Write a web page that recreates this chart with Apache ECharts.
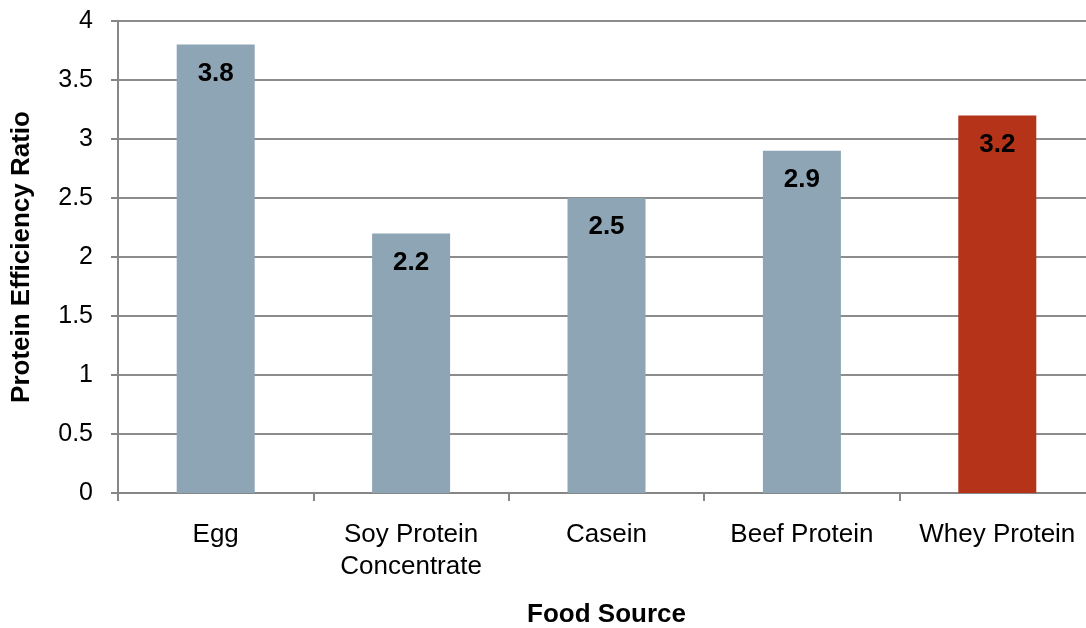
<!DOCTYPE html>
<html>
<head>
<meta charset="utf-8">
<script src="https://cdn.jsdelivr.net/npm/echarts@6/dist/echarts.min.js"></script>
<style>
html, body { margin: 0; padding: 0; background: #fff; }
#chart { width: 1086px; height: 628px; }
</style>
</head>
<body>
<div id="chart"></div>
<script>
var categories = ['Egg', 'Soy Protein\nConcentrate', 'Casein', 'Beef Protein', 'Whey Protein'];
var perValues = [3.8, 2.2, 2.5, 2.9, 3.2];
var barColors = ['#8ea5b6', '#8ea5b6', '#8ea5b6', '#8ea5b6', '#b53319'];

var chart = echarts.init(document.getElementById('chart'));
var font = 'Liberation Sans, Arial, sans-serif';

chart.setOption({
	animation: false,
	grid: {
		left: 118,
		top: 21,
		width: 977,
		height: 472,
		outerBoundsMode: 'none',
		containLabel: false
	},
	xAxis: {
		type: 'category',
		data: categories,
		name: 'Food Source',
		nameLocation: 'middle',
		nameGap: 109,
		nameTextStyle: { fontFamily: font, fontSize: 26, fontWeight: 'bold', color: '#000' },
		axisLine: { lineStyle: { color: '#868686', width: 2 } },
		axisTick: { show: true, length: 8, lineStyle: { color: '#868686', width: 2 } },
		axisLabel: { fontFamily: font, fontSize: 26, color: '#000', margin: 26, lineHeight: 32, interval: 0 }
	},
	yAxis: {
		type: 'value',
		min: 0,
		max: 4,
		interval: 0.5,
		name: 'Protein Efficiency Ratio',
		nameLocation: 'middle',
		nameGap: 83,
		nameTextStyle: { fontFamily: font, fontSize: 26, fontWeight: 'bold', color: '#000' },
		axisLine: { show: true, lineStyle: { color: '#868686', width: 2 } },
		axisTick: { show: true, length: 7, lineStyle: { color: '#868686', width: 2 } },
		axisLabel: { fontFamily: font, fontSize: 25, color: '#000', margin: 25 },
		splitLine: { lineStyle: { color: '#8c8c8c', width: 2 } }
	},
	series: [{
		type: 'bar',
		barWidth: 78,
		data: perValues.map(function(v, i) {
			return { value: v, itemStyle: { color: barColors[i] } };
		}),
		label: {
			show: true,
			position: 'insideTop',
			distance: 16,
			fontFamily: font,
			fontSize: 26,
			fontWeight: 'bold',
			color: '#000'
		}
	}]
});
</script>
</body>
</html>
